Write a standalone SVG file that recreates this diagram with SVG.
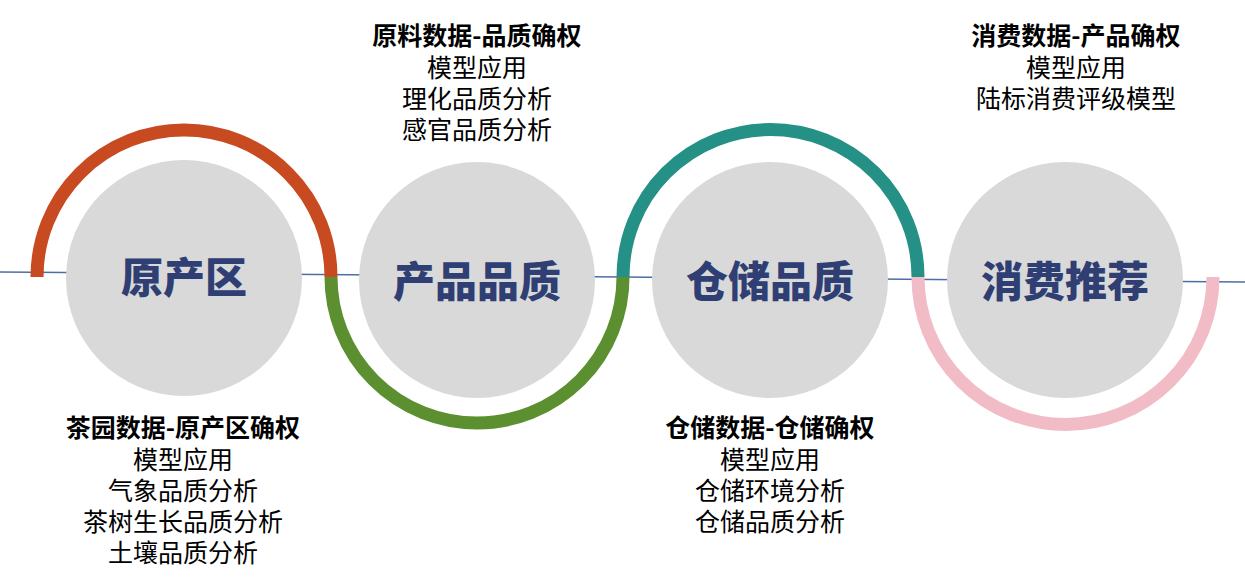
<svg xmlns="http://www.w3.org/2000/svg" width="1245" height="586" viewBox="0 0 1245 586">
<style>
.c{fill:#d9d9d9}
.a{fill:none;stroke-width:13}
.big{font-family:"Noto Sans CJK SC",sans-serif;font-weight:900;font-size:42px;fill:#2f3f73;text-anchor:middle}
.h{font-family:"Noto Sans CJK SC",sans-serif;font-weight:700;font-size:25px;fill:#000;text-anchor:middle}
.t{font-family:"Noto Sans CJK SC",sans-serif;font-size:25px;fill:#000;text-anchor:middle}
</style>
<rect width="1245" height="586" fill="#fff"/>
<g id="connectors">
<line x1="0" y1="272" x2="1245" y2="282" stroke="#4a6fa5" stroke-width="1.5"/>
<path class="a" stroke="#c84a20" d="M37 277 A147 147 0 0 1 331 277"/>
<path class="a" stroke="#5b8f30" d="M331 277 A146 146 0 0 0 623 277"/>
<path class="a" stroke="#259086" d="M623 277 A147.5 147.5 0 0 1 918 277"/>
<path class="a" stroke="#f2bcc6" d="M918 277 A147.5 147.5 0 0 0 1213 277"/>
</g>
<g id="n1"><circle class="c" cx="184" cy="278" r="118"/><text class="big" x="184" y="293">原产区</text></g>
<g id="n2"><circle class="c" cx="477" cy="280" r="118"/><text class="big" x="477" y="297">产品品质</text></g>
<g id="n3"><circle class="c" cx="770" cy="280" r="118"/><text class="big" x="770" y="297">仓储品质</text></g>
<g id="n4"><circle class="c" cx="1065" cy="280" r="118"/><text class="big" x="1065" y="297">消费推荐</text></g>
<g id="l1"><text class="h" x="183" y="437">茶园数据-原产区确权</text><text class="t" x="183" y="469">模型应用</text><text class="t" x="183" y="500">气象品质分析</text><text class="t" x="183" y="531">茶树生长品质分析</text><text class="t" x="183" y="562">土壤品质分析</text></g>
<g id="l2"><text class="h" x="477" y="45">原料数据-品质确权</text><text class="t" x="477" y="77">模型应用</text><text class="t" x="477" y="108">理化品质分析</text><text class="t" x="477" y="139">感官品质分析</text></g>
<g id="l3"><text class="h" x="770" y="437">仓储数据-仓储确权</text><text class="t" x="770" y="469">模型应用</text><text class="t" x="770" y="500">仓储环境分析</text><text class="t" x="770" y="531">仓储品质分析</text></g>
<g id="l4"><text class="h" x="1076" y="45">消费数据-产品确权</text><text class="t" x="1076" y="77">模型应用</text><text class="t" x="1076" y="108">陆标消费评级模型</text></g>
</svg>
